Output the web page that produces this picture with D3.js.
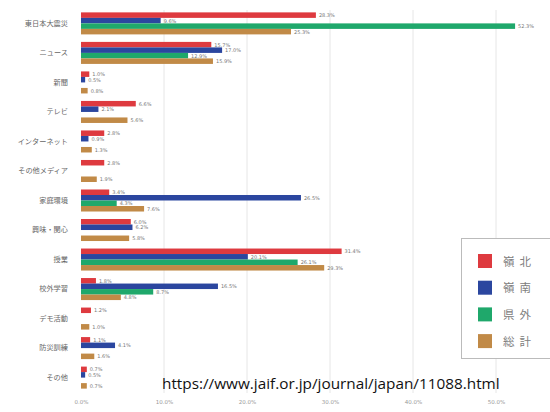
<!DOCTYPE html>
<html><head><meta charset="utf-8">
<script src="https://cdn.jsdelivr.net/npm/d3@7"></script>
<style>
html,body{margin:0;padding:0;background:#fff;}
svg{display:block;}
</style></head>
<body>
<svg id="c" width="550" height="412"></svg>
<script>
const categories = ["東日本大震災","ニュース","新聞","テレビ","インターネット","その他メディア","家庭環境","興味・関心","授業","校外学習","デモ活動","防災訓練","その他"];
const seriesNames = ["嶺北","嶺南","県外","総計"];
const reihoku = [28.3, 15.7, 1.0, 6.6, 2.8, 2.8, 3.4, 6.0, 31.4, 1.8, 1.2, 1.1, 0.7];
const reinan  = [9.6, 17.0, 0.5, 2.1, 0.9, 0, 26.5, 6.2, 20.1, 16.5, 0, 4.1, 0.5];
const kengai  = [52.3, 12.9, 0, 0, 0, 0, 4.3, 0, 26.1, 8.7, 0, 0, 0];
const soukei  = [25.3, 15.9, 0.8, 5.6, 1.3, 1.9, 7.6, 5.8, 29.3, 4.8, 1.0, 1.6, 0.7];
const tickValues = [0, 10, 20, 30, 40, 50];
const sourceText = "https://www.jaif.or.jp/journal/japan/11088.html";

const colors = ["#de3a3f", "#2b469f", "#1fa86b", "#c18a47"];
const seriesValues = [reihoku, reinan, kengai, soukei];

const svg = d3.select("#c");
const x = d3.scaleLinear().domain([0, 50]).range([81, 496]);
const y = d3.scaleBand().domain(categories).range([5, 396]).paddingInner(0.254).paddingOuter(0.25);
const ys = d3.scaleBand().domain(seriesNames).range([0, y.bandwidth()]);

// gridlines
svg.append("g").selectAll("line").data(tickValues.filter(d => d > 0)).join("line")
  .attr("x1", d => x(d)).attr("x2", d => x(d))
  .attr("y1", 10).attr("y2", 393)
  .attr("stroke", "#e6e6e6").attr("stroke-width", 1);

// x axis
const xAxis = d3.axisBottom(x).tickValues(tickValues).tickFormat(d => d.toFixed(1) + "%").tickSize(0);
const ax = svg.append("g").attr("transform", "translate(0,397)").call(xAxis);
ax.select(".domain").remove();
ax.selectAll("text").attr("fill", "#999").attr("font-size", 5.5).attr("font-family", "DejaVu Sans");

// category labels
const yAxis = d3.axisLeft(y).tickSize(0).tickPadding(0);
const ay = svg.append("g").attr("transform", "translate(68,0)").call(yAxis);
ay.select(".domain").remove();
ay.selectAll("text").attr("fill", "#666").attr("font-size", 7.2)
  .attr("font-family", "Noto Sans CJK JP");

// bars
const rows = [];
categories.forEach((c, i) => {
  seriesNames.forEach((s, j) => {
    const v = seriesValues[j][i];
    if (v > 0) rows.push({c, s, v, j});
  });
});
const bars = svg.append("g");
bars.selectAll("rect").data(rows).join("rect")
  .attr("x", x(0))
  .attr("y", d => y(d.c) + ys(d.s))
  .attr("width", d => x(d.v) - x(0))
  .attr("height", ys.bandwidth())
  .attr("fill", d => colors[d.j]);
bars.selectAll("text").data(rows).join("text")
  .attr("x", d => x(d.v) + 3)
  .attr("y", d => y(d.c) + ys(d.s) + ys.bandwidth() / 2 + 2)
  .attr("font-size", 5)
  .attr("font-family", "DejaVu Sans")
  .attr("fill", "#777")
  .text(d => d.v.toFixed(1) + "%");

// legend
const lg = svg.append("g");
lg.append("rect").attr("x", 461.5).attr("y", 238.5).attr("width", 100).attr("height", 120)
  .attr("fill", "#fff").attr("stroke", "#bbb").attr("stroke-width", 1);
const li = lg.selectAll("g.it").data(seriesNames).join("g").attr("class", "it")
  .attr("transform", (d, i) => `translate(478,${254 + i * 26.7})`);
li.append("rect").attr("width", 14).attr("height", 14).attr("fill", (d, i) => colors[i]);
li.append("text").attr("x", 25).attr("y", 11.5).attr("font-size", 11.5)
  .attr("letter-spacing", 5)
  .attr("font-family", "Noto Sans CJK JP").attr("fill", "#808080").text(d => d);

// source text
const st = svg.append("text").attr("x", 162).attr("y", 389)
  .attr("font-family", "Open Sans").attr("font-size", 15).attr("fill", "#111").text(sourceText);
const w = st.node().getComputedTextLength();
st.attr("font-size", 15 * 338 / w);
</script>
</body></html>
